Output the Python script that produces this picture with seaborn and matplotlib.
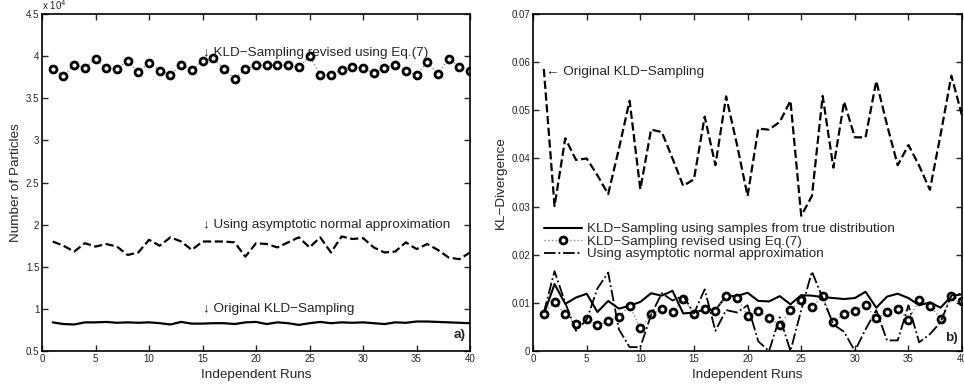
import numpy as np
import pandas as pd
import matplotlib.pyplot as plt
import seaborn as sns

# runs 1..40
runs = list(range(1, 41))

# left panel: number of particles (x 10^4)
revised_n = [3.85, 3.77, 3.90, 3.86, 3.97, 3.86, 3.85, 3.94, 3.81, 3.92,
             3.83, 3.78, 3.90, 3.84, 3.94, 3.98, 3.85, 3.73, 3.85, 3.89,
             3.89, 3.90, 3.89, 3.87, 4.00, 3.78, 3.78, 3.84, 3.87, 3.86,
             3.80, 3.86, 3.90, 3.82, 3.78, 3.93, 3.79, 3.97, 3.87, 3.82]
asymp_n = [1.80, 1.75, 1.68, 1.78, 1.74, 1.77, 1.74, 1.64, 1.67, 1.82,
           1.75, 1.85, 1.80, 1.70, 1.80, 1.80, 1.80, 1.79, 1.62, 1.78,
           1.77, 1.73, 1.79, 1.85, 1.73, 1.85, 1.67, 1.86, 1.83, 1.84,
           1.73, 1.67, 1.68, 1.79, 1.71, 1.77, 1.70, 1.61, 1.59, 1.67]
orig_n = [0.84, 0.82, 0.815, 0.84, 0.84, 0.845, 0.835, 0.84, 0.835, 0.84,
          0.83, 0.815, 0.845, 0.825, 0.825, 0.83, 0.83, 0.82, 0.84, 0.845,
          0.82, 0.84, 0.83, 0.81, 0.83, 0.845, 0.83, 0.84, 0.835, 0.84,
          0.83, 0.82, 0.84, 0.835, 0.85, 0.85, 0.845, 0.84, 0.835, 0.83]

# right panel: KL-divergence
orig_kl = [0.0586, 0.0301, 0.0442, 0.0397, 0.0400, 0.0365, 0.0326, 0.0420, 0.0520, 0.0336,
           0.0460, 0.0455, 0.0400, 0.0343, 0.0357, 0.0487, 0.0386, 0.0529, 0.0430, 0.0322,
           0.0462, 0.0460, 0.0476, 0.0520, 0.0281, 0.0322, 0.0530, 0.0381, 0.0518, 0.0444,
           0.0444, 0.0561, 0.0470, 0.0386, 0.0428, 0.0385, 0.0335, 0.0450, 0.0572, 0.0489]
true_kl = [0.0076, 0.0139, 0.0098, 0.0111, 0.0119, 0.0081, 0.0104, 0.0088, 0.0094, 0.0102,
           0.0120, 0.0115, 0.0125, 0.0078, 0.0080, 0.0086, 0.0085, 0.0114, 0.0114, 0.0121,
           0.0104, 0.0103, 0.0114, 0.0097, 0.0116, 0.0115, 0.0112, 0.0110, 0.0108, 0.0110,
           0.0123, 0.0090, 0.0113, 0.0119, 0.0110, 0.0095, 0.0101, 0.0090, 0.0114, 0.0118]
revised_kl = [0.0076, 0.0102, 0.0076, 0.0056, 0.0067, 0.0053, 0.0062, 0.0071, 0.0094, 0.0047,
              0.0076, 0.0087, 0.0080, 0.0109, 0.0077, 0.0087, 0.0084, 0.0114, 0.0111, 0.0073,
              0.0083, 0.0069, 0.0054, 0.0085, 0.0106, 0.0091, 0.0114, 0.0060, 0.0077, 0.0084,
              0.0095, 0.0068, 0.0080, 0.0087, 0.0065, 0.0105, 0.0094, 0.0067, 0.0115, 0.0104]
asymp_kl = [0.0080, 0.0166, 0.0100, 0.0042, 0.0065, 0.0130, 0.0163, 0.0045, 0.0008, 0.0008,
            0.0075, 0.0120, 0.0105, 0.0115, 0.0078, 0.0128, 0.0042, 0.0085, 0.0080, 0.0095,
            0.0020, 0.0000, 0.0070, 0.0000, 0.0085, 0.0165, 0.0110, 0.0055, 0.0040, 0.0000,
            0.0045, 0.0085, 0.0022, 0.0022, 0.0095, 0.0018, 0.0035, 0.0060, 0.0115, 0.0120]

sns.set_style("ticks")
plt.rcParams['font.family'] = ['Liberation Sans', 'DejaVu Sans']
plt.rcParams['xtick.direction'] = 'in'
plt.rcParams['ytick.direction'] = 'in'
plt.rcParams['axes.linewidth'] = 1.2

fig = plt.figure(figsize=(9.64, 3.89), dpi=100)
ax1 = fig.add_axes([0.0436, 0.0977, 0.444, 0.866])
ax2 = fig.add_axes([0.553, 0.0977, 0.445, 0.866])

circ = dict(marker='o', markersize=5, markerfacecolor='white',
            markeredgecolor='black', markeredgewidth=2)
fs = 9.7

##Left panel
sns.lineplot(x=runs, y=revised_n, ax=ax1, color='0.55', linestyle=':', lw=1, **circ)
sns.lineplot(x=runs, y=asymp_n, ax=ax1, color='black', linestyle='--', lw=1.6)
sns.lineplot(x=runs, y=orig_n, ax=ax1, color='black', linestyle='-', lw=1.6)
ax1.set_xlim(0, 40)
ax1.set_ylim(0.5, 4.5)
ax1.set_xticks(range(0, 41, 5))
ax1.set_yticks(np.arange(0.5, 4.6, 0.5))
ax1.set_yticklabels(['0.5', '1', '1.5', '2', '2.5', '3', '3.5', '4', '4.5'])
ax1.set_xlabel('Independent Runs', fontsize=fs, labelpad=4)
ax1.set_ylabel('Number of Particles', fontsize=fs, labelpad=3)
ax1.text(0, 1.005, r'x 10$^4$', transform=ax1.transAxes, fontsize=7, va='bottom')
ax1.text(15, 4.04, '↓ KLD−Sampling revised using Eq.(7)', fontsize=fs, va='center')
ax1.text(15, 2.0, '↓ Using asymptotic normal approximation', fontsize=fs, va='center')
ax1.text(15, 1.0, '↓ Original KLD−Sampling', fontsize=fs, va='center')
ax1.text(39.6, 0.62, 'a)', fontsize=fs, fontweight='bold', ha='right', va='bottom')

##Right panel
sns.lineplot(x=runs, y=orig_kl, ax=ax2, color='black', linestyle='--', lw=1.6)
sns.lineplot(x=runs, y=true_kl, ax=ax2, color='black', linestyle='-', lw=1.5,
             label='KLD−Sampling using samples from true distribution')
sns.lineplot(x=runs, y=revised_kl, ax=ax2, color='0.55', linestyle=':', lw=1,
             label='KLD−Sampling revised using Eq.(7)', **circ)
sns.lineplot(x=runs, y=asymp_kl, ax=ax2, color='black', linestyle='-.', lw=1.3,
             label='Using asymptotic normal approximation')
ax2.set_xlim(0, 40)
ax2.set_ylim(0, 0.07)
ax2.set_xticks(range(0, 41, 5))
ax2.set_yticks(np.arange(0, 0.071, 0.01))
ax2.set_yticklabels(['0', '0.01', '0.02', '0.03', '0.04', '0.05', '0.06', '0.07'])
ax2.set_xlabel('Independent Runs', fontsize=fs, labelpad=4)
ax2.set_ylabel('KL−Divergence', fontsize=fs, labelpad=3)
ax2.text(1.2, 0.0579, '← Original KLD−Sampling', fontsize=fs, va='center')
ax2.text(39.6, 0.0014, 'b)', fontsize=fs, fontweight='bold', ha='right', va='bottom')
ax2.legend(loc='upper left', bbox_to_anchor=(0.01, 0.40), frameon=False, fontsize=fs,
           handlelength=2.8, handletextpad=0.4, labelspacing=0.0, borderpad=0)

for ax in (ax1, ax2):
    ax.tick_params(axis='both', labelsize=7, length=4, width=1,
                   top=True, right=True, pad=2)
    for s in ax.spines.values():
        s.set_visible(True)
        s.set_color('black')

fig.savefig('out.png', dpi=100)
